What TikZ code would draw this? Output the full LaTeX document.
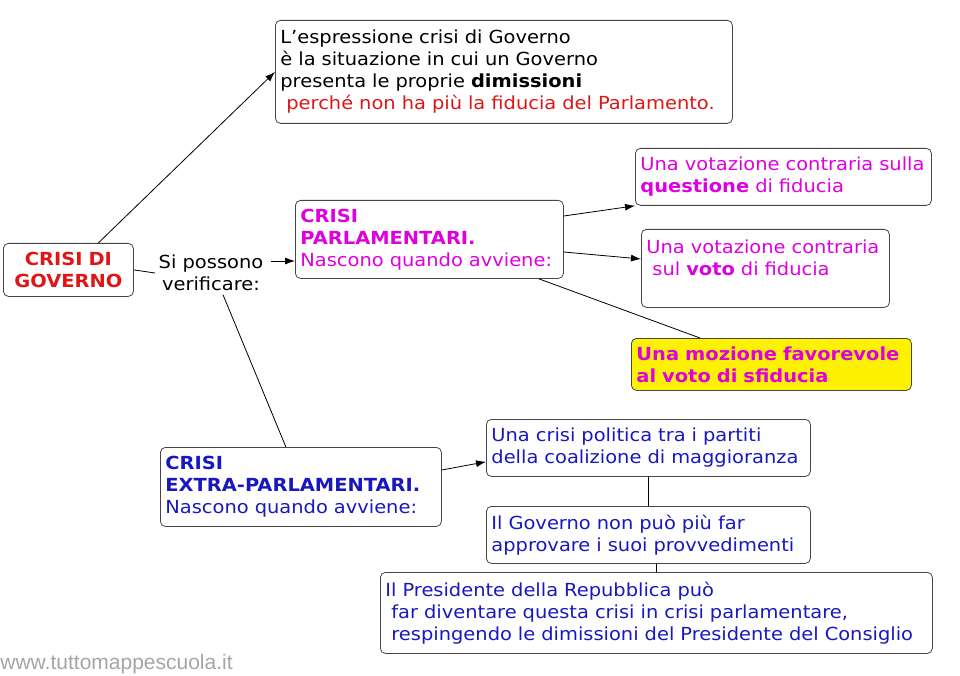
\documentclass[tikz,border=0pt]{standalone}
\usepackage{fontspec}
\setmainfont[FakeStretch=1.08]{DejaVu Sans}
\newfontfamily\wwwfont{Liberation Sans}
\usetikzlibrary{positioning,arrows.meta}
\definecolor{crred}{RGB}{222,22,22}
\definecolor{crmag}{RGB}{222,0,222}
\definecolor{crblue}{RGB}{24,24,190}
\definecolor{crline}{RGB}{70,70,70}
\definecolor{crgray}{RGB}{165,165,165}
\begin{document}
\begin{tikzpicture}[->,>={Latex[length=10pt,width=7pt]},x=1pt,y=-1pt,line width=0.8pt,
    font=\fontsize{18}{22}\selectfont,
    box/.style={draw=crline,rounded corners=5pt,anchor=north west,align=left,
      inner xsep=5pt,inner ysep=4pt,text width=#1-10pt},
    box/.default=200pt]
  \useasboundingbox (0,0) rectangle (960,676);
  \node [box=130pt,align=center,minimum height=53pt,text=crred,font=\fontsize{18}{22}\selectfont\bfseries] (gov) at (3,243) {CRISI DI\\GOVERNO};
  \node [align=center] (verif) at (211,273) {Si possono\\verificare:};
  \node [box=457pt,minimum height=103pt] (def) at (275,20) {L'espressione crisi di Governo\\è la situazione in cui un Governo\\presenta le proprie \textbf{dimissioni}\\\textcolor{crred}{\ perché non ha più la fiducia del Parlamento.}};
  \node [box=268pt,minimum height=78pt,text=crmag] (parl) at (295,200) {\textbf{CRISI}\\\textbf{PARLAMENTARI.}\\Nascono quando avviene:};
  \node [box=296pt,minimum height=57pt,text=crmag] (quest) at (635,148) {\mbox{Una votazione contraria sulla}\\\textbf{questione} di fiducia};
  \node [box=248pt,minimum height=78pt,text=crmag] (voto) at (641,229) {Una votazione contraria\\\ sul \textbf{voto} di fiducia\\\mbox{}};
  \node [box=280pt,minimum height=52pt,fill=yellow,text=crmag,font=\fontsize{18}{22}\selectfont\bfseries] (moz) at (631,338) {Una mozione favorevole\\al voto di sfiducia};
  \node [box=281pt,minimum height=79pt,text=crblue] (extra) at (160,447) {\textbf{CRISI}\\\textbf{EXTRA-PARLAMENTARI.}\\Nascono quando avviene:};
  \node [box=324pt,minimum height=57pt,text=crblue] (coal) at (486,419) {Una crisi politica tra i partiti\\della coalizione di maggioranza};
  \node [box=324pt,minimum height=57pt,text=crblue] (provv) at (486,506) {Il Governo non può più far\\approvare i suoi provvedimenti};
  \node [box=552pt,minimum height=81pt,text=crblue] (pres) at (380,572) {Il Presidente della Repubblica può\\\ far diventare questa crisi in crisi parlamentare,\\\ respingendo le dimissioni del Presidente del Consiglio};
  \node [anchor=west,text=crgray,font=\wwwfont\fontsize{21}{23}\selectfont,inner sep=0pt] (www) at (0,664) {www.tuttomappescuola.it};
  % connectors
  \path (gov.42) edge (def.west);
  \path (gov.east) edge [-] (verif.west);
  \path ([yshift=12pt,xshift=4pt]verif.east) edge ([yshift=12pt]verif.east -| parl.west);
  \path ([xshift=12pt]verif.south) edge [-] ([xshift=-15pt]extra.north);
  \path ([yshift=-16pt]parl.north east) edge (quest.south west);
  \path ([yshift=-52pt]parl.north east) edge ([yshift=-30pt]voto.north west);
  \path ([xshift=-25pt]parl.south east) edge [-] ([xshift=69pt]moz.north west);
  \path ([yshift=-23pt]extra.north east) edge ([yshift=15pt]coal.south west);
  \path (coal.south) edge [-] (provv.north);
  \path (provv.south -| pres.north) edge [-] (pres.north);
\end{tikzpicture}
\end{document}
